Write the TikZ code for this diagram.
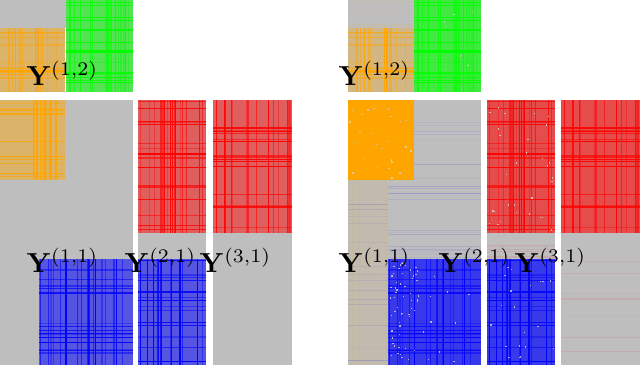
\documentclass[tikz,border=0pt]{standalone}
\definecolor{bg}{RGB}{190,190,190}
\definecolor{myorange}{RGB}{255,165,0}
\definecolor{mygreen}{RGB}{0,255,0}
\definecolor{myred}{RGB}{255,0,0}
\definecolor{myblue}{RGB}{0,0,255}
\definecolor{speck}{RGB}{215,210,200}
\definecolor{beige}{RGB}{194,187,175}
\tikzset{
  lab/.style={inner sep=0pt, anchor=base west, scale=2.75},
}
% x0 y0 x1 y1 colour tint seed nlines
\newcommand{\gridblock}[8]{%
  \fill[#5!#6!bg] (#1,#2) rectangle (#3,#4);
  \pgfmathsetseed{#7}%
  \foreach \k in {1,...,#8}{%
    \pgfmathsetmacro{\pp}{#1+1+rnd*(#3-#1-2)}%
    \pgfmathsetmacro{\ww}{0.5+1.3*rnd}%
    \pgfmathsetmacro{\oo}{0.3+0.7*rnd}%
    \draw[#5, line width=\ww pt, opacity=\oo] (\pp,#2) -- (\pp,#4);
    \pgfmathsetmacro{\qq}{#2+1+rnd*(#4-#2-2)}%
    \pgfmathsetmacro{\vv}{0.5+1.3*rnd}%
    \pgfmathsetmacro{\uu}{0.3+0.7*rnd}%
    \draw[#5, line width=\vv pt, opacity=\uu] (#1,\qq) -- (#3,\qq);
  }%
}
% speckles: x0 y0 x1 y1 seed n
\newcommand{\speckles}[6]{%
  \pgfmathsetseed{#5}%
  \foreach \k in {1,...,#6}{%
    \pgfmathsetmacro{\sx}{#1+1+rnd*(#3-#1-3)}%
    \pgfmathsetmacro{\sy}{#2+1+rnd*(#4-#2-3)}%
    \fill[speck, opacity=0.8] (\sx,\sy) rectangle ++(1.4,1.4);
  }%
}
% faint stripes: x0 y0 x1 y1 colour seed n
\newcommand{\faintrows}[7]{%
  \pgfmathsetseed{#6}%
  \foreach \k in {1,...,#7}{%
    \pgfmathsetmacro{\qq}{#2+1+rnd*(#4-#2-2)}%
    \pgfmathsetmacro{\uu}{0.03+0.08*rnd}%
    \draw[#5, line width=1pt, opacity=\uu] (#1,\qq) -- (#3,\qq);
  }%
}
\newcommand{\faintcols}[7]{%
  \pgfmathsetseed{#6}%
  \foreach \k in {1,...,#7}{%
    \pgfmathsetmacro{\pp}{#1+1+rnd*(#3-#1-2)}%
    \pgfmathsetmacro{\uu}{0.03+0.08*rnd}%
    \draw[#5, line width=1pt, opacity=\uu] (\pp,#2) -- (\pp,#4);
  }%
}
\begin{document}
\begin{tikzpicture}[x=1pt,y=-1pt]
\useasboundingbox[fill=white] (0,0) rectangle (640,367);

% ================= LEFT PANEL =================
% top block
\fill[bg] (0,0) rectangle (66,28);
\gridblock{0}{28}{65}{92}{myorange}{45}{11}{12}
\gridblock{66}{0}{133}{92}{mygreen}{55}{12}{16}
% bottom block
\fill[bg] (0,100) rectangle (133,365);
\gridblock{0}{100}{65}{180}{myorange}{45}{21}{12}
\gridblock{39}{259}{133}{365}{myblue}{55}{31}{18}
% column 2
\fill[bg] (138,100) rectangle (206,365);
\gridblock{138}{100}{206}{233}{myred}{50}{41}{16}
\gridblock{138}{259}{206}{365}{myblue}{55}{32}{16}
% column 3
\fill[bg] (213,100) rectangle (292,365);
\gridblock{213}{100}{292}{233}{myred}{50}{42}{16}

% labels
\node[lab] (l12a) at (26,85) {$\mathbf{Y}^{(1,2)}$};
\node[lab] (l11a) at (26,272) {$\mathbf{Y}^{(1,1)}$};
\node[lab] (l21a) at (124,272) {$\mathbf{Y}^{(2,1)}$};
\node[lab] (l31a) at (199,272) {$\mathbf{Y}^{(3,1)}$};

% ================= RIGHT PANEL =================
% top block
\fill[bg] (348,0) rectangle (414,28);
\faintrows{348}{0}{414}{28}{myorange}{51}{8}
\gridblock{348}{28}{414}{92}{myorange}{30}{11}{12}
\gridblock{414}{0}{481}{92}{mygreen}{65}{12}{16}
\speckles{414}{0}{481}{92}{61}{8}
% bottom block
\fill[bg] (348,100) rectangle (481,365);
\fill[beige] (348,180) rectangle (388,365);
\faintcols{348}{180}{388}{365}{myorange}{71}{12}
\faintrows{348}{180}{388}{365}{myblue}{72}{16}
\faintrows{388}{100}{481}{259}{myblue}{73}{24}
\fill[myorange] (348,100) rectangle (414,180);
\speckles{348}{100}{414}{180}{62}{25}
\gridblock{388}{259}{481}{365}{myblue}{70}{31}{18}
\speckles{388}{259}{420}{365}{63}{55}
\speckles{420}{259}{481}{365}{64}{10}
% column 2
\fill[bg] (487,100) rectangle (555,365);
\gridblock{487}{100}{555}{233}{myred}{60}{41}{16}
\speckles{487}{100}{555}{233}{65}{30}
\faintrows{487}{233}{555}{259}{myred}{74}{6}
\gridblock{487}{259}{555}{365}{myblue}{70}{32}{16}
\speckles{487}{259}{555}{365}{66}{20}
% column 3
\fill[bg] (561,100) rectangle (640,365);
\gridblock{561}{100}{640}{233}{myred}{60}{42}{16}
\faintrows{561}{233}{640}{365}{myred}{75}{8}

% labels
\node[lab] (l12b) at (338,85) {$\mathbf{Y}^{(1,2)}$};
\node[lab] (l11b) at (338,272) {$\mathbf{Y}^{(1,1)}$};
\node[lab] (l21b) at (438,272) {$\mathbf{Y}^{(2,1)}$};
\node[lab] (l31b) at (514,272) {$\mathbf{Y}^{(3,1)}$};
\end{tikzpicture}
\end{document}
